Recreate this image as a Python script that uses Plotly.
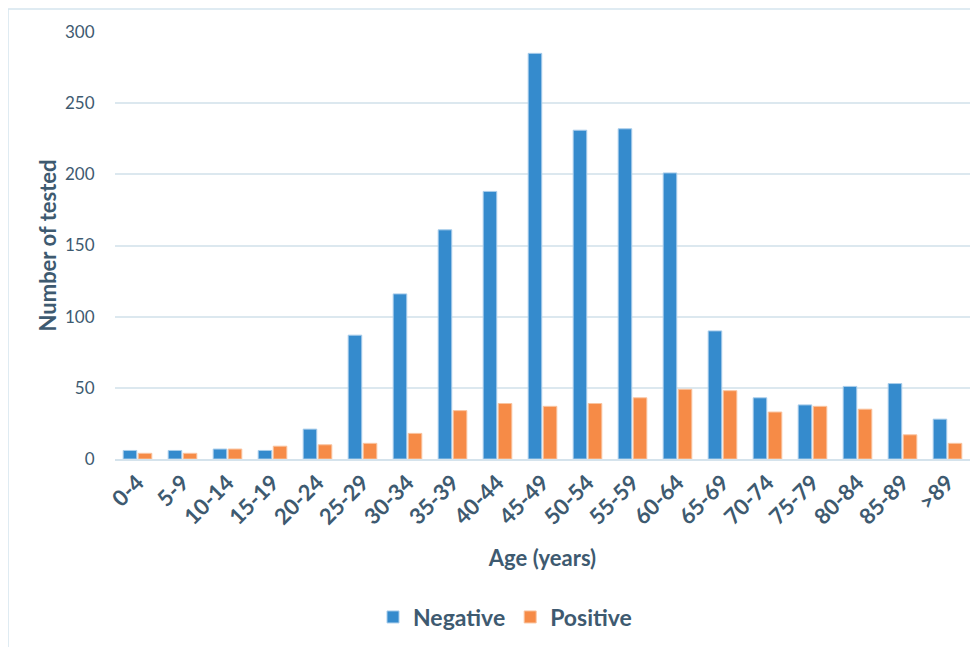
import plotly.graph_objects as go

categories = ["0-4", "5-9", "10-14", "15-19", "20-24", "25-29", "30-34", "35-39", "40-44",
              "45-49", "50-54", "55-59", "60-64", "65-69", "70-74", "75-79", "80-84", "85-89", ">89"]
negative = [6, 6, 7, 6, 21, 87, 116, 161, 188, 285, 231, 232, 201, 90, 43, 38, 51, 53, 28]
positive = [4, 4, 7, 9, 10, 11, 18, 34, 39, 37, 39, 43, 49, 48, 33, 37, 35, 17, 11]
y_ticks = [0, 50, 100, 150, 200, 250, 300]

TXT = "#3E5A70"
FONT = "Lato"

fig = go.Figure()
fig.add_trace(go.Bar(x=categories, y=negative, name="Negative",
                     marker=dict(color="#358BCD", line=dict(color="#A9CDEB", width=1))))
fig.add_trace(go.Bar(x=categories, y=positive, name="Positive",
                     marker=dict(color="#F68B47", line=dict(color="#F9C4A0", width=1))))

# page has an 8px body margin; figure is placed at (8, 8)
W, H = 970, 639
L, R, T, B = 107, 8, 24, 188
pw, ph = W - L - R, H - T - B

def py(y):
    return (H - B - y) / ph

fig.update_layout(
    width=W, height=H,
    margin=dict(l=L, r=R, t=T, b=B),
    paper_bgcolor="white", plot_bgcolor="white",
    barmode="group", bargap=0.33, bargroupgap=0.1,
    font=dict(family=FONT, color=TXT),
    showlegend=True,
    legend=dict(orientation="h", x=(497 - L) / pw, xanchor="center", y=py(609), yanchor="middle",
                font=dict(size=23, color=TXT, family=FONT, weight="bold"),
                itemwidth=30, traceorder="normal"),
    xaxis=dict(title=dict(text="Age (years)", font=dict(size=22, color=TXT, weight="bold"), standoff=22),
               tickangle=-45, tickfont=dict(size=22, color=TXT, weight="bold"),
               showline=True, linecolor="#D5E3EC", linewidth=2, ticks="",
               showgrid=False),
    yaxis=dict(title=dict(text="Number of tested", font=dict(size=22, color=TXT, weight="bold"), standoff=2),
               range=[0, 300], tickvals=y_ticks, tickfont=dict(size=17, color=TXT),
               showgrid=True, gridcolor="#DCE8EF", gridwidth=1.5, zeroline=False,
               showline=False, ticks="outside", ticklen=16, tickcolor="white"),
    shapes=[
        dict(type="line", xref="paper", yref="paper", x0=-L / pw, x1=-L / pw, y0=py(1), y1=py(H),
             line=dict(color="#D5E5EE", width=1.5)),
        dict(type="line", xref="paper", yref="paper", x0=-L / pw, x1=(W - L) / pw, y0=py(1), y1=py(1),
             line=dict(color="#D5E5EE", width=1.5)),
    ],
)

fig.write_html("out.html")
